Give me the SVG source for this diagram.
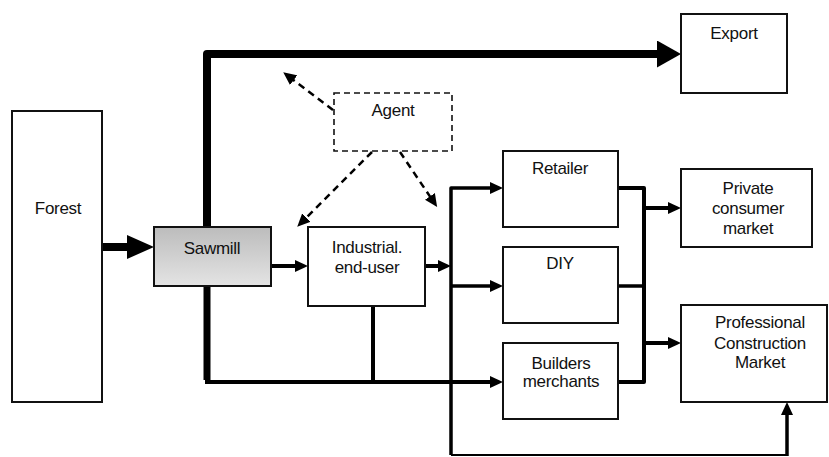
<svg xmlns="http://www.w3.org/2000/svg" width="829" height="457" viewBox="0 0 829 457">
<defs>
<linearGradient id="gs" x1="0" y1="0" x2="0" y2="1">
<stop offset="0" stop-color="#bcbcbc"/>
<stop offset="1" stop-color="#e4e4e4"/>
</linearGradient>
<marker id="ah" markerUnits="userSpaceOnUse" markerWidth="14" markerHeight="12" refX="2" refY="6" orient="auto"><path d="M0,0 L13,6 L0,12 z" fill="#000"/></marker>
<marker id="big" markerUnits="userSpaceOnUse" markerWidth="25" markerHeight="27" refX="2" refY="13.5" orient="auto"><path d="M0,0 L24,13.5 L0,27 z" fill="#000"/></marker>
<marker id="fa" markerUnits="userSpaceOnUse" markerWidth="28" markerHeight="25" refX="2" refY="12" orient="auto"><path d="M0,0 L27,12 L0,24 z" fill="#000"/></marker>
</defs>
<style>
.box{fill:#fff;stroke:#111;stroke-width:2}
.dash{fill:#fff;stroke:#111;stroke-width:1.6;stroke-dasharray:6,4}
.t{font-family:"Liberation Sans",Arial,sans-serif;font-size:17px;fill:#111;text-anchor:middle;letter-spacing:-0.3px}
.c{fill:none;stroke:#000;stroke-linejoin:round}
.d{fill:none;stroke:#000;stroke-width:2.5;stroke-dasharray:7,5}
</style>
<g id="connectors">
<path class="c" d="M102,247 H129" stroke-width="8" marker-end="url(#fa)"/>
<path class="c" d="M207,227 V54 H659" stroke-width="8" stroke-linejoin="miter" marker-end="url(#big)"/>
<path class="c" d="M207,286 V380" stroke-width="7"/>
<path class="c" d="M205,382 H492" stroke-width="4" marker-end="url(#ah)"/>
<path class="c" d="M271,266 H297" stroke-width="4" marker-end="url(#ah)"/>
<path class="c" d="M425,266 H440" stroke-width="4" marker-end="url(#ah)"/>
<path class="c" d="M373,306 V382" stroke-width="4"/>
<path class="c" d="M451,455 V188 H492" stroke-width="3.5" marker-end="url(#ah)"/>
<path class="c" d="M451,286 H492" stroke-width="3.5" marker-end="url(#ah)"/>
<path class="c" d="M451,455 H787" stroke-width="2"/>
<path class="c" d="M787,456 V413" stroke-width="3.5" marker-end="url(#ah)"/>
<path class="c" d="M618,188 H644 V382 H618" stroke-width="4"/>
<path class="c" d="M618,286 H644" stroke-width="3.5"/>
<path class="c" d="M644,208 H670" stroke-width="4" marker-end="url(#ah)"/>
<path class="c" d="M644,343 H670" stroke-width="4" marker-end="url(#ah)"/>
<path class="d" d="M333,110 L292,79" marker-end="url(#ah)"/>
<path class="d" d="M372,152 L305,219" marker-end="url(#ah)"/>
<path class="d" d="M400,152 L431,198" marker-end="url(#ah)"/>
</g>
<g id="forest"><rect class="box" x="12" y="111" width="90" height="291"/><text class="t" x="58" y="214">Forest</text></g>
<g id="sawmill"><rect x="154" y="227" width="117" height="59" fill="url(#gs)" stroke="#111" stroke-width="2"/><text class="t" x="212" y="254">Sawmill</text></g>
<g id="export"><rect class="box" x="681" y="14" width="106" height="79"/><text class="t" x="734" y="39">Export</text></g>
<g id="agent"><rect class="dash" x="334" y="93" width="118" height="58"/><text class="t" x="393" y="116">Agent</text></g>
<g id="industrial"><rect class="box" x="308" y="227" width="117" height="79"/><text class="t" x="367" y="253">Industrial.</text><text class="t" x="367" y="273">end-user</text></g>
<g id="retailer"><rect class="box" x="503" y="151" width="115" height="76"/><text class="t" x="560" y="174">Retailer</text></g>
<g id="diy"><rect class="box" x="503" y="247" width="115" height="76"/><text class="t" x="560" y="269">DIY</text></g>
<g id="builders"><rect class="box" x="503" y="343" width="115" height="76"/><text class="t" x="561" y="369">Builders</text><text class="t" x="561" y="387">merchants</text></g>
<g id="private"><rect class="box" x="681" y="169" width="131" height="78"/><text class="t" x="748" y="194">Private</text><text class="t" x="748" y="214">consumer</text><text class="t" x="748" y="234">market</text></g>
<g id="professional"><rect class="box" x="681" y="305" width="146" height="97"/><text class="t" x="760" y="328">Professional</text><text class="t" x="760" y="349">Construction</text><text class="t" x="760" y="368">Market</text></g>
</svg>
